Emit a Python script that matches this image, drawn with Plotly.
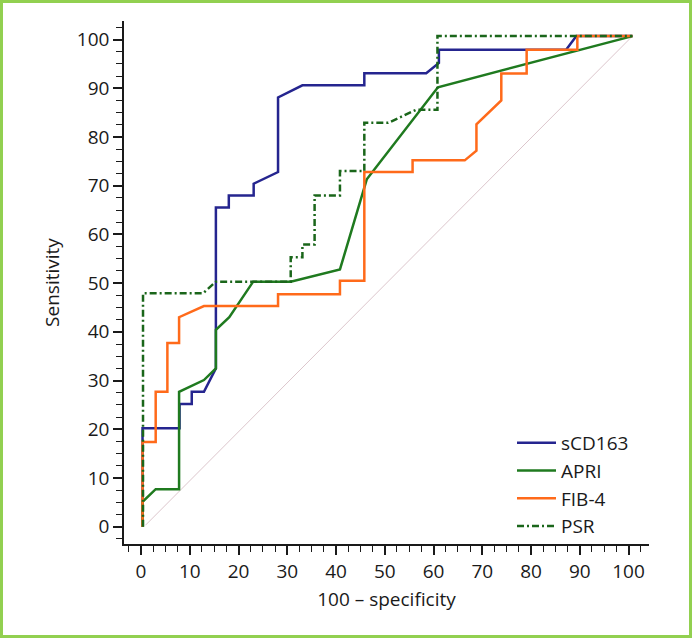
#!/usr/bin/env python3
"""ROC curves: sCD163, APRI, FIB-4 and PSR."""

import plotly.graph_objects as go

# values (100 - specificity, sensitivity)
scd163_x = [0.3, 0.3, 7.9, 7.9, 10.4, 10.4, 12.9, 15.35, 15.35, 18.0, 18.0, 23.1, 23.1,
            28.1, 28.1, 33.1, 45.8, 45.8, 58.5, 61.1, 61.1, 87.2, 89.3, 100.8]
scd163_y = [0, 20.2, 20.2, 25.2, 25.2, 27.7, 27.7, 32.5, 65.5, 65.5, 68.0, 68.0, 70.4,
            72.8, 88.1, 90.6, 90.6, 93.1, 93.1, 95.2, 97.9, 97.9, 100.7, 100.7]

apri_x = [0.3, 0.3, 3.0, 7.8, 7.8, 12.9, 15.35, 15.35, 18.1, 23.0, 30.7, 40.8, 46.3,
          60.9, 100.8]
apri_y = [0, 5.1, 7.7, 7.7, 27.7, 30.1, 32.5, 40.4, 43.0, 50.3, 50.3, 52.8, 71.3,
          90.2, 100.7]

fib4_x = [0.3, 0.3, 3.0, 3.0, 5.4, 5.4, 7.8, 7.8, 12.9, 28.1, 28.1, 40.8, 40.8, 45.8,
          45.8, 55.7, 55.7, 66.4, 68.8, 68.8, 73.9, 73.9, 79.1, 79.1, 89.5, 89.5, 100.8]
fib4_y = [0, 17.4, 17.4, 27.7, 27.7, 37.7, 37.7, 43.0, 45.3, 45.3, 47.7, 47.7, 50.5,
          50.5, 72.8, 72.8, 75.2, 75.2, 77.2, 82.6, 87.5, 93.0, 93.0, 97.9, 97.9,
          100.7, 100.7]

psr_x = [0.4, 0.4, 12.7, 15.35, 30.7, 30.7, 33.1, 33.1, 35.6, 35.6, 40.8, 40.8, 45.8,
         45.8, 50.7, 56.5, 60.8, 60.8, 100.8]
psr_y = [0, 47.9, 47.9, 50.3, 50.3, 55.3, 55.3, 57.9, 57.9, 68.0, 68.0, 73.0, 73.0,
         82.9, 82.9, 85.6, 85.6, 100.7, 100.7]

ref_x = [0.9, 100.8]
ref_y = [0.3, 100.7]

FONT = "Open Sans"
FS = 19
W, H = 692, 638
L, R, T, B = 124, 43, 21, 94

fig = go.Figure()

fig.add_trace(go.Scatter(
    x=ref_x, y=ref_y, mode="lines", line=dict(color="#dcc6cc", width=1),
    showlegend=False, hoverinfo="skip",
))

series = [
    ("sCD163", scd163_x, scd163_y, "#25258f", "solid"),
    ("APRI", apri_x, apri_y, "#1f7a1f", "solid"),
    ("FIB-4", fib4_x, fib4_y, "#ff6a1a", "solid"),
    ("PSR", psr_x, psr_y, "#1a661a", "7px,3px,2px,3px"),
]
for name, xs, ys, color, dash in series:
    fig.add_trace(go.Scatter(
        x=xs, y=ys, mode="lines", name=name,
        line=dict(color=color, width=2.5, dash=dash),
    ))

axis_common = dict(
    showline=True, linecolor="#1a1a1a", linewidth=1.5, mirror=False,
    showgrid=False, zeroline=False,
    ticks="outside", ticklen=9, tickwidth=1.5, tickcolor="#1a1a1a",
    dtick=10, tick0=0,
    minor=dict(ticks="outside", ticklen=6, tickwidth=1.2, tickcolor="#1a1a1a",
               dtick=2.5, tick0=0, showgrid=False),
    tickfont=dict(family=FONT, size=FS, color="#1a1a1a"),
)

fig.update_xaxes(
    range=[-3.5, 104.2],
    title=dict(text="100 – specificity", font=dict(family=FONT, size=FS, color="#1a1a1a"),
               standoff=10),
    **axis_common,
)
fig.update_yaxes(
    range=[-3.55, 103.8],
    title=dict(text="Sensitivity", font=dict(family=FONT, size=FS, color="#1a1a1a"),
               standoff=12),
    **axis_common,
)

pw = W - L - R
ph = H - T - B
# light green frame round the whole picture
fig.add_shape(
    type="rect", xref="paper", yref="paper",
    x0=(1.5 - L) / pw, x1=(W - 1.5 - L) / pw,
    y0=(ph + T - (H - 1.5)) / ph, y1=(ph + T - 1.5) / ph,
    line=dict(color="#92d050", width=3), fillcolor="rgba(0,0,0,0)",
)

fig.update_layout(
    width=W, height=H,
    margin=dict(l=L, r=R, t=T, b=B),
    paper_bgcolor="white", plot_bgcolor="white",
    font=dict(family=FONT, size=FS, color="#1a1a1a"),
    legend=dict(
        x=(512 - L) / pw, y=(ph + T - 424) / ph, xanchor="left", yanchor="top",
        font=dict(family=FONT, size=FS, color="#1a1a1a"),
        bgcolor="rgba(0,0,0,0)", tracegroupgap=0, itemwidth=39,
    ),
    showlegend=True,
)

fig.write_html(
    "out.html",
    config={"displayModeBar": False},
    post_script="document.body.style.margin='0';",
)
